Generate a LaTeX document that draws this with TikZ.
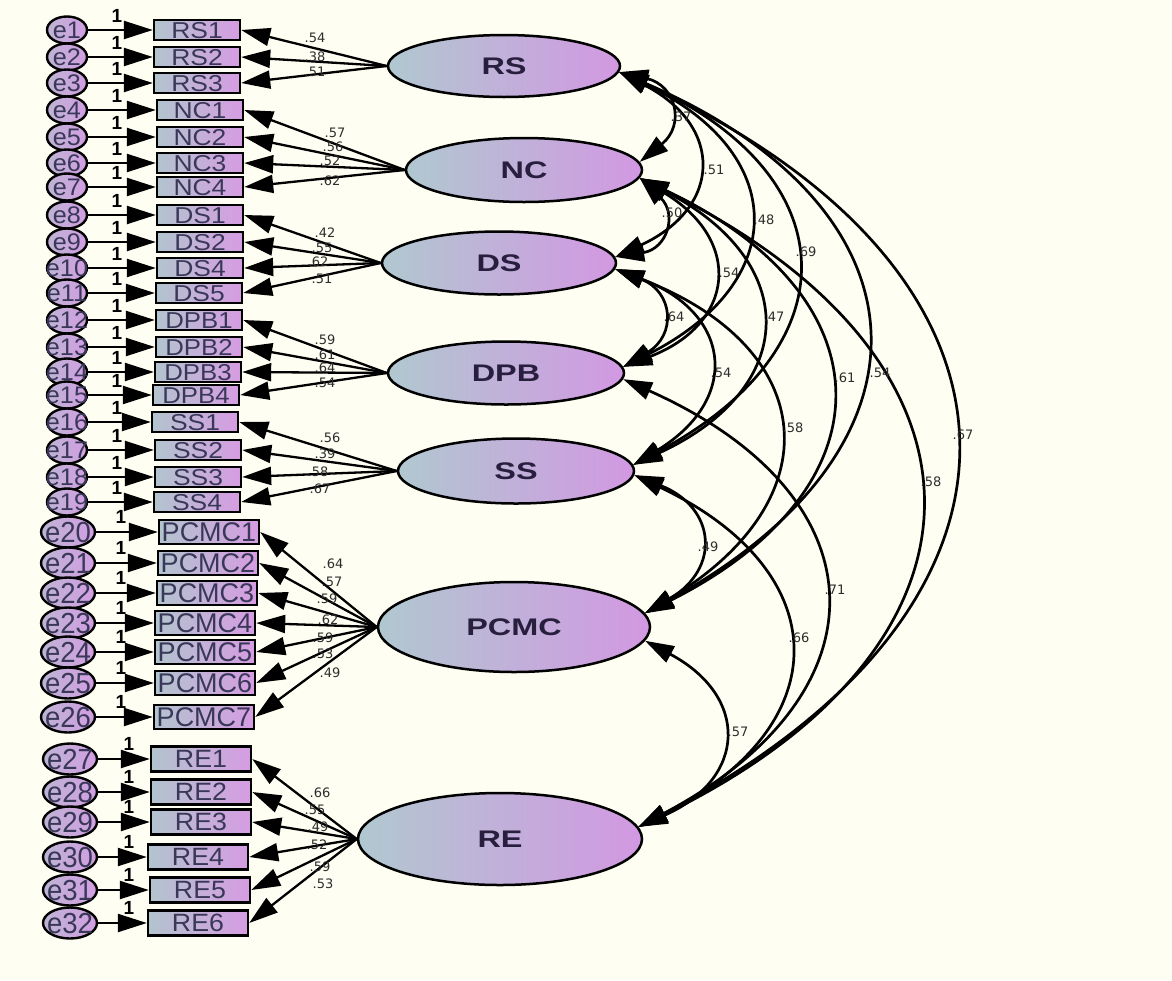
\documentclass[tikz,border=0pt]{standalone}
\usepackage{fontspec}
\usepackage{graphicx}
\setmainfont{Liberation Sans}
\newfontfamily\labfont{DejaVu Sans}
\usetikzlibrary{shapes.geometric,arrows.meta}
\definecolor{bgc}{RGB}{254,254,242}
\definecolor{boxL}{RGB}{178,196,206}
\definecolor{boxR}{RGB}{214,156,226}
\definecolor{latL}{RGB}{176,200,208}
\definecolor{latR}{RGB}{210,152,226}
\definecolor{errL}{RGB}{190,180,212}
\definecolor{errR}{RGB}{210,158,226}
\definecolor{txtc}{RGB}{58,56,88}
\definecolor{ltxt}{RGB}{40,30,62}
\definecolor{valc}{RGB}{45,45,45}
\newcommand{\ctext}[2]{\makebox[0pt]{\scalebox{#1}[1]{#2}}}
\tikzset{
  obs/.style={rectangle, draw=black, line width=2.4pt, left color=boxL, right color=boxR, inner sep=0pt, text=txtc},
  smallobs/.style={obs, minimum width=86pt, minimum height=20pt, font=\fontsize{23}{23}\selectfont, text height=16.5pt, text depth=0pt},
  pcmcobs/.style={obs, minimum width=100pt, minimum height=24pt, font=\fontsize{27}{27}\selectfont, text height=19.3pt, text depth=0pt},
  reobs/.style={obs, minimum width=100pt, minimum height=25pt, font=\fontsize{25}{25}\selectfont, text height=17.9pt, text depth=0pt},
  err/.style={ellipse, draw=black, line width=2.4pt, left color=errL, right color=errR, inner sep=0pt, text=txtc, minimum width=40pt, minimum height=27pt, font=\fontsize{24}{24}\selectfont, text height=17.2pt, text depth=0pt},
  errb/.style={err, minimum width=54pt, minimum height=31pt, font=\fontsize{29}{29}\selectfont, text height=20.8pt},
  latent/.style={ellipse, draw=black, line width=2.5pt, left color=latL, right color=latR, inner sep=0pt, text=ltxt, font=\bfseries\fontsize{24}{24}\selectfont, text height=17.2pt, text depth=0pt},
  arr/.style={line width=2.3pt, -{Triangle[length=29pt,width=18pt]}},
  cov/.style={line width=2.7pt, {Triangle[length=29pt,width=18pt]}-{Triangle[length=29pt,width=18pt]}, bend left=64, looseness=1.63},
  val/.style={font=\labfont\fontsize{13}{13}\selectfont, text=valc, inner sep=0pt},
  one/.style={font=\bfseries\fontsize{19}{19}\selectfont, inner sep=0pt},
}
\begin{document}
\begin{tikzpicture}[x=1pt,y=1pt]
\fill[bgc] (0,0) rectangle (1172,-980);
\useasboundingbox (0,0) rectangle (1172,-980);

% latent variables
\node[latent, minimum width=232pt, minimum height=62pt] (RS) at (504,-66) {\ctext{1.35}{RS}};
\node[latent, minimum width=236pt, minimum height=64pt] (NC) at (524,-170) {\ctext{1.35}{NC}};
\node[latent, minimum width=234pt, minimum height=63pt] (DS) at (499,-263) {\ctext{1.35}{DS}};
\node[latent, minimum width=236pt, minimum height=63pt] (DPB) at (506,-373) {\ctext{1.35}{DPB}};
\node[latent, minimum width=236pt, minimum height=65pt] (SS) at (516,-471) {\ctext{1.35}{SS}};
\node[latent, minimum width=272pt, minimum height=90pt] (PCMC) at (514,-627) {\ctext{1.35}{PCMC}};
\node[latent, minimum width=284pt, minimum height=92pt] (RE) at (500,-839) {\ctext{1.35}{RE}};

% observed variables
\node[smallobs] (RS1) at (197,-30) {\ctext{1.15}{RS1}};
\node[smallobs] (RS2) at (197,-57) {\ctext{1.15}{RS2}};
\node[smallobs] (RS3) at (197,-83) {\ctext{1.15}{RS3}};
\node[smallobs] (NC1) at (200,-110) {\ctext{1.15}{NC1}};
\node[smallobs] (NC2) at (200,-137) {\ctext{1.15}{NC2}};
\node[smallobs] (NC3) at (200,-163) {\ctext{1.15}{NC3}};
\node[smallobs] (NC4) at (200,-187) {\ctext{1.15}{NC4}};
\node[smallobs] (DS1) at (200,-215) {\ctext{1.15}{DS1}};
\node[smallobs] (DS2) at (200,-242) {\ctext{1.15}{DS2}};
\node[smallobs] (DS4) at (200,-268) {\ctext{1.15}{DS4}};
\node[smallobs] (DS5) at (199,-293) {\ctext{1.15}{DS5}};
\node[smallobs] (DPB1) at (199,-320) {\ctext{1.12}{DPB1}};
\node[smallobs] (DPB2) at (199,-347) {\ctext{1.12}{DPB2}};
\node[smallobs] (DPB3) at (198,-372) {\ctext{1.12}{DPB3}};
\node[smallobs] (DPB4) at (196,-395) {\ctext{1.12}{DPB4}};
\node[smallobs] (SS1) at (195,-422) {\ctext{1.15}{SS1}};
\node[smallobs] (SS2) at (198,-450) {\ctext{1.15}{SS2}};
\node[smallobs] (SS3) at (198,-477) {\ctext{1.15}{SS3}};
\node[smallobs] (SS4) at (197,-502) {\ctext{1.15}{SS4}};
\node[pcmcobs] (PCMC1) at (209,-532) {\ctext{1.0}{PCMC1}};
\node[pcmcobs] (PCMC2) at (208,-563) {\ctext{1.0}{PCMC2}};
\node[pcmcobs] (PCMC3) at (207,-593) {\ctext{1.0}{PCMC3}};
\node[pcmcobs] (PCMC4) at (205,-623) {\ctext{1.0}{PCMC4}};
\node[pcmcobs] (PCMC5) at (205,-652) {\ctext{1.0}{PCMC5}};
\node[pcmcobs] (PCMC6) at (205,-683) {\ctext{1.0}{PCMC6}};
\node[pcmcobs] (PCMC7) at (204,-717) {\ctext{1.0}{PCMC7}};
\node[reobs] (RE1) at (201,-759) {\ctext{1.07}{RE1}};
\node[reobs] (RE2) at (201,-792) {\ctext{1.07}{RE2}};
\node[reobs] (RE3) at (201,-822) {\ctext{1.07}{RE3}};
\node[reobs] (RE4) at (198,-857) {\ctext{1.07}{RE4}};
\node[reobs] (RE5) at (200,-890) {\ctext{1.07}{RE5}};
\node[reobs] (RE6) at (198,-923) {\ctext{1.07}{RE6}};

% error terms
\foreach \i/\t/\y in {1/RS1/30,2/RS2/57,3/RS3/83,4/NC1/110,5/NC2/137,6/NC3/163,7/NC4/187,
  8/DS1/215,9/DS2/242,10/DS4/268,11/DS5/293,12/DPB1/320,13/DPB2/347,14/DPB3/372,15/DPB4/395,
  16/SS1/422,17/SS2/450,18/SS3/477,19/SS4/502}{
  \node[err] (e\i) at (67,-\y) {\ctext{1.05}{e\i}};
  \draw[arr] (e\i.east) -- (\t.west);
  \node[one] (one\i) at (117,-\y+14) {1};
}
\foreach \i/\t/\y in {20/PCMC1/532,21/PCMC2/563,22/PCMC3/593,23/PCMC4/623,24/PCMC5/652,25/PCMC6/683,26/PCMC7/717}{
  \node[errb] (e\i) at (68,-\y) {\ctext{0.95}{e\i}};
  \draw[arr] (e\i.east) -- (\t.west);
  \node[one] (one\i) at (121,-\y+15) {1};
}
\foreach \i/\t/\y in {27/RE1/759,28/RE2/792,29/RE3/822,30/RE4/857,31/RE5/890,32/RE6/923}{
  \node[errb] (e\i) at (70,-\y) {\ctext{0.95}{e\i}};
  \draw[arr] (e\i.east) -- (\t.west);
  \node[one] (one\i) at (129,-\y+15) {1};
}

% loadings
\foreach \t in {RS1,RS2,RS3}{\draw[arr] (RS.west) -- (\t.east);}
\foreach \t in {NC1,NC2,NC3,NC4}{\draw[arr] (NC.west) -- (\t.east);}
\foreach \t in {DS1,DS2,DS4,DS5}{\draw[arr] (DS.west) -- (\t.east);}
\foreach \t in {DPB1,DPB2,DPB3,DPB4}{\draw[arr] (DPB.west) -- (\t.east);}
\foreach \t in {SS1,SS2,SS3,SS4}{\draw[arr] (SS.west) -- (\t.east);}
\foreach \t in {PCMC1,PCMC2,PCMC3,PCMC4,PCMC5,PCMC6,PCMC7}{\draw[arr] (PCMC.west) -- (\t.east);}
\foreach \t in {RE1,RE2,RE3,RE4,RE5,RE6}{\draw[arr] (RE.west) -- (\t.east);}

% loading values
\foreach \n/\x/\y/\v in {a1/315/38/.54,a2/315/57/.38,a3/315/72/.51,
  b1/335/133/.57,b2/333/147/.56,b3/330/161/.52,b4/330/181/.62,
  c1/325/233/.42,c2/322/248/.55,c3/318/262/.62,c4/322/279/.51,
  d1/325/340/.59,d2/325/355/.61,d3/325/368/.64,d4/325/383/.54,
  f1/330/438/.56,f2/325/454/.39,f3/318/472/.58,f4/320/489/.67,
  g1/333/564/.64,g2/332/582/.57,g3/327/599/.59,g4/328/620/.62,g5/323/638/.59,g6/323/654/.53,g7/330/673/.49,
  h1/320/793/.66,h2/315/810/.55,h3/318/827/.49,h4/317/845/.52,h5/320/867/.59,h6/323/884/.53}{
  \node[val] (L\n) at (\x,-\y) {\v};
}

% covariances
\draw[cov] (RS.-3) to (NC.4);
\draw[cov] (RS.-3) to (DS.3);
\draw[cov] (NC.-4) to (DS.3);
\draw[cov] (RS.-3) to (DPB.3);
\draw[cov] (NC.-4) to (DPB.3);
\draw[cov] (DS.-3) to (DPB.3);
\draw[cov] (RS.-3) to (SS.3);
\draw[cov] (NC.-4) to (SS.3);
\draw[cov] (DS.-3) to (SS.3);
\draw[cov] (RS.-3) to (PCMC.6);
\draw[cov] (NC.-4) to (PCMC.6);
\draw[cov] (DS.-3) to (PCMC.6);
\draw[cov] (SS.-2) to (PCMC.6);
\draw[cov] (RS.-3) to (RE.5);
\draw[cov] (NC.-4) to (RE.5);
\draw[cov] (DPB.-3) to (RE.5);
\draw[cov] (SS.-2) to (RE.5);
\draw[cov] (PCMC.-6) to (RE.5);

% covariance values
\foreach \n/\x/\y/\v in {k1/681/117/.37,k2/714/170/.51,k3/672/213/.50,k4/764/220/.48,k5/806/252/.69,
  k6/729/273/.54,k7/674/317/.64,k8/774/317/.47,k9/721/373/.54,k10/845/378/.61,k11/880/373/.54,
  k12/793/428/.58,k13/963/435/.67,k14/931/482/.58,k15/708/547/.49,k16/835/590/.71,k17/799/638/.66,k18/738/732/.57}{
  \node[val] (C\n) at (\x,-\y) {\v};
}
\end{tikzpicture}
\end{document}
